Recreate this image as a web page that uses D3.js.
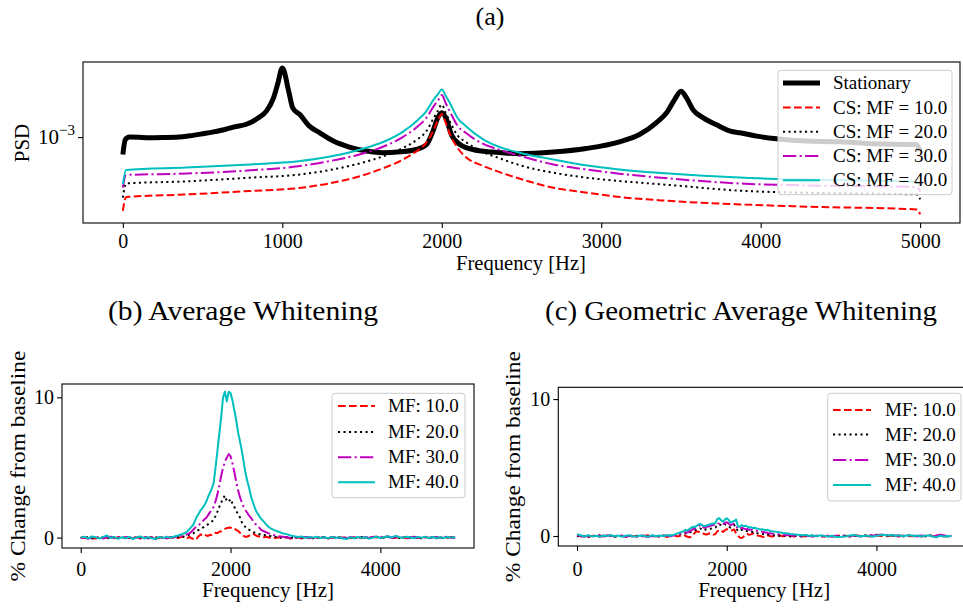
<!DOCTYPE html>
<html><head><meta charset="utf-8">
<script src="https://cdn.jsdelivr.net/npm/d3@7"></script>
<style>
body{margin:0;background:#fff}
svg{display:block}
text{font-family:"Liberation Serif","Times New Roman",serif;fill:#000}
</style>
</head><body>
<svg id="c" width="963" height="608"></svg>
<script>
// ---------------- DATA ----------------
// Panel (a): PSD vs frequency
const statFreq = [0,15,40,100,160,250,350,420,500,570,640,700,770,850,900,945,970,1000,1040,1065,1110,1170,1235,1320,1420,1530,1630,1740,1840,1905,1945,1975,2000,2030,2060,2115,2195,2320,2490,2700,2905,3115,3240,3345,3410,3460,3500,3535,3575,3640,3720,3825,3870,3975,4100,4285,4495,4705,4975,5000];
const statPSD = [7.06e-4,9.47e-4,1.0e-3,0.996e-3,0.986e-3,0.99e-3,1.0e-3,1.026e-3,1.068e-3,1.11e-3,1.164e-3,1.229e-3,1.287e-3,1.471e-3,1.683e-3,2.195e-3,2.863e-3,4.0e-3,2.51e-3,1.797e-3,1.571e-3,1.246e-3,1.09e-3,0.923e-3,0.819e-3,0.756e-3,0.731e-3,0.745e-3,0.78e-3,0.862e-3,1.127e-3,1.471e-3,1.626e-3,1.422e-3,1.053e-3,0.862e-3,0.78e-3,0.741e-3,0.716e-3,0.741e-3,0.796e-3,0.91e-3,1.053e-3,1.331e-3,1.626e-3,2.121e-3,2.51e-3,2.195e-3,1.736e-3,1.471e-3,1.287e-3,1.112e-3,1.09e-3,1.02e-3,0.967e-3,0.923e-3,0.91e-3,0.875e-3,0.862e-3,0.756e-3];

const csFreq = [0,20,400,800,1100,1300,1500,1650,1750,1850,1900,1950,1975,2000,2025,2050,2100,2150,2250,2350,2500,2700,2900,3100,3400,3900,4300,4980,5000];
const csMF10 = [2.28e-4,3.01e-4,3.17e-4,3.40e-4,3.60e-4,3.97e-4,4.63e-4,5.48e-4,6.31e-4,7.68e-4,8.82e-4,1.16e-3,1.39e-3,1.59e-3,1.33e-3,1.07e-3,8.04e-4,6.70e-4,5.68e-4,5.03e-4,4.30e-4,3.63e-4,3.30e-4,3.03e-4,2.80e-4,2.59e-4,2.48e-4,2.35e-4,2.13e-4];
const csMF20 = [2.97e-4,3.95e-4,4.12e-4,4.44e-4,4.71e-4,5.18e-4,5.98e-4,6.96e-4,7.98e-4,9.61e-4,1.11e-3,1.47e-3,1.69e-3,1.92e-3,1.62e-3,1.37e-3,1.03e-3,9.08e-4,7.51e-4,6.64e-4,5.64e-4,4.90e-4,4.45e-4,4.17e-4,3.86e-4,3.40e-4,3.28e-4,3.17e-4,2.87e-4];
const csMF30 = [3.63e-4,4.68e-4,4.82e-4,5.14e-4,5.57e-4,6.20e-4,7.16e-4,8.45e-4,9.90e-4,1.24e-3,1.45e-3,1.86e-3,2.07e-3,2.32e-3,1.97e-3,1.68e-3,1.25e-3,1.09e-3,8.87e-4,7.85e-4,6.81e-4,5.78e-4,5.25e-4,4.83e-4,4.40e-4,3.93e-4,3.80e-4,3.68e-4,3.35e-4];
const csMF40 = [3.88e-4,5.17e-4,5.43e-4,5.79e-4,6.16e-4,6.77e-4,7.88e-4,9.29e-4,1.10e-3,1.41e-3,1.66e-3,2.13e-3,2.35e-3,2.59e-3,2.28e-3,1.99e-3,1.46e-3,1.25e-3,9.76e-4,8.32e-4,7.25e-4,6.39e-4,5.69e-4,5.26e-4,4.84e-4,4.42e-4,4.27e-4,4.09e-4,3.78e-4];

const topXTicks = [0,1000,2000,3000,4000,5000];
const topYTicks = [1e-3];

// Panels (b),(c): % change from baseline
const pctFreq = [
 0,50,100,150,200,250,300,350,400,450,500,550,600,650,700,
 750,800,850,900,950,1000,1050,1100,1150,1200,1250,1300,1350,1400,
 1425,1450,1475,1500,1525,1550,1575,1600,1625,1650,1675,1700,
 1725,1750,1775,1800,1825,1850,1875,1900,1925,1950,1975,2000,
 2025,2050,2075,2100,2125,2150,2175,2200,2225,2250,2275,2300,
 2325,2350,2375,2400,2425,2450,2475,2500,2525,2550,2575,2600,
 2650,2700,2750,2800,2850,2900,2950,3000,3050,3100,3150,3200,
 3250,3300,3350,3400,3450,3500,3550,3600,3650,3700,3750,3800,
 3850,3900,3950,4000,4050,4100,4150,4200,4250,4300,4350,4400,
 4450,4500,4550,4600,4650,4700,4750,4800,4850,4900,4950,5000];

const avgMF10 = [
 0.02,-0.05,0.03,-0.02,-0.06,0.04,-0.03,0.02,0.00,-0.05,0.03,-0.02,0.05,-0.04,0.00,
 0.03,-0.06,0.02,-0.03,0.05,-0.08,-0.02,0.04,-0.05,0.02,0.00,-0.03,0.05,0.08,
 -0.03,0.05,-0.05,-0.08,0.02,-0.06,0.10,0.22,0.18,0.25,0.15,0.12,
 0.20,0.18,0.28,0.35,0.32,0.42,0.45,0.55,0.62,0.68,0.70,0.72,
 0.62,0.65,0.55,0.48,0.35,0.22,0.12,0.05,0.08,0.15,0.22,0.28,
 0.20,0.12,0.08,0.10,0.05,0.02,0.06,0.03,-0.02,0.04,0.00,-0.03,
 0.02,-0.05,0.03,-0.08,-0.04,0.02,-0.06,0.00,0.03,-0.04,0.02,-0.02,
 0.04,-0.06,0.00,-0.03,0.05,-0.02,0.03,-0.05,0.02,0.00,-0.04,0.03,
 -0.02,0.05,0.00,-0.03,0.04,0.06,0.02,-0.02,0.05,0.00,-0.04,0.02,
 0.04,-0.03,0.00,0.05,-0.02,0.03,-0.04,0.00,0.04,-0.02,0.05,0.02];
const avgMF20 = [
 0.00,-0.04,0.03,-0.06,0.02,-0.05,0.04,0.00,-0.03,0.05,-0.02,0.03,-0.05,0.02,0.04,
 -0.04,0.01,-0.02,0.05,-0.03,0.02,-0.05,0.03,0.00,0.04,-0.02,0.05,0.06,0.10,
 0.15,0.22,0.28,0.30,0.38,0.48,0.55,0.60,0.70,0.78,0.85,0.95,
 1.05,1.15,1.25,1.55,1.85,2.20,2.50,2.80,3.00,2.60,2.55,2.75,
 2.45,2.20,1.90,1.70,1.45,1.10,0.90,0.75,0.62,0.55,0.48,0.40,
 0.35,0.30,0.26,0.22,0.20,0.18,0.15,0.14,0.12,0.10,0.08,0.06,
 0.03,-0.02,0.04,0.00,-0.05,0.02,-0.03,0.05,0.00,-0.04,0.03,-0.02,
 0.04,-0.05,0.02,0.00,-0.03,0.04,-0.02,0.03,-0.05,0.00,0.04,-0.03,
 0.02,0.05,0.02,0.06,-0.02,0.08,0.00,0.04,-0.03,0.05,0.02,-0.02,
 0.04,0.00,-0.04,0.03,0.05,-0.02,0.02,0.00,-0.03,0.04,0.01,-0.02];
const avgMF30 = [
 -0.05,0.02,-0.08,0.04,-0.03,0.05,-0.06,0.03,0.06,-0.04,0.02,-0.07,0.04,0.00,-0.05,
 0.06,-0.02,0.03,-0.06,0.02,-0.12,0.03,0.00,-0.04,0.05,0.02,0.08,0.12,0.20,
 0.25,0.30,0.40,0.55,0.70,0.80,0.90,1.00,1.15,1.30,1.40,1.60,
 1.80,2.00,2.20,2.60,3.10,3.70,4.40,5.00,5.40,5.70,5.95,5.80,
 5.30,4.70,4.00,3.40,2.90,2.50,2.20,1.95,1.75,1.55,1.40,1.20,
 1.00,0.90,0.75,0.60,0.50,0.45,0.38,0.32,0.28,0.22,0.18,0.15,
 0.10,0.06,0.02,-0.03,0.04,-0.05,0.02,0.05,-0.04,0.03,-0.02,0.06,
 0.00,-0.05,0.03,0.05,-0.03,0.02,-0.06,0.04,0.00,-0.04,0.06,0.02,
 -0.03,0.05,0.08,0.03,0.10,0.04,-0.02,0.05,0.08,0.00,-0.05,0.03,
 0.06,-0.02,0.04,0.00,-0.04,0.05,0.02,-0.03,0.04,0.06,-0.02,0.00];
const avgMF40 = [
 0.00,0.06,-0.05,0.08,0.02,-0.06,0.05,0.15,-0.03,0.04,-0.08,0.03,-0.05,0.06,-0.10,
 0.02,0.08,-0.06,0.03,-0.04,-0.10,0.05,-0.02,0.06,0.00,0.08,0.15,0.25,0.35,
 0.45,0.60,0.75,0.90,1.20,1.50,1.70,1.95,2.10,2.30,2.55,2.90,
 3.20,3.50,3.90,5.00,6.20,7.40,8.60,10.00,10.40,9.70,10.40,10.30,
 9.80,9.10,8.40,7.50,6.90,6.20,5.40,4.60,4.00,3.50,2.90,2.50,
 2.10,1.80,1.60,1.40,1.25,1.10,0.95,0.80,0.70,0.62,0.55,0.50,
 0.40,0.30,0.25,0.15,0.10,0.05,0.08,-0.02,0.04,0.00,0.06,-0.03,
 0.02,-0.05,0.05,-0.02,0.03,-0.06,-0.10,0.02,-0.04,0.05,-0.03,0.03,
 -0.08,0.00,0.06,-0.04,0.04,0.08,0.02,0.12,0.05,-0.02,0.06,0.02,
 -0.04,0.05,0.00,0.07,-0.03,0.04,-0.05,0.03,-0.02,0.05,0.00,0.02];

const geoMF10 = [
 0.05,-0.03,0.02,-0.05,0.00,0.03,-0.06,0.02,-0.02,0.04,-0.04,0.00,0.02,-0.05,0.03,
 -0.02,0.00,-0.06,0.02,0.05,-0.04,0.00,-0.02,0.03,-0.08,0.00,0.04,-0.03,0.05,
 0.08,0.00,-0.05,-0.10,-0.05,0.05,0.25,0.35,0.30,0.28,0.20,0.15,
 0.10,0.15,0.20,0.18,0.10,0.15,0.35,0.45,0.40,0.30,0.42,0.50,
 0.45,0.38,0.42,0.48,0.20,0.05,-0.12,-0.15,-0.05,0.10,0.15,0.08,
 0.12,0.20,0.10,0.05,0.02,0.00,-0.05,-0.08,0.02,0.05,0.00,-0.03,
 0.02,0.05,-0.02,0.00,0.03,-0.04,0.02,0.00,-0.03,0.04,-0.02,0.02,
 0.00,-0.05,0.03,-0.02,0.00,0.04,-0.03,0.02,-0.05,0.00,0.03,-0.02,
 0.04,-0.03,0.02,0.05,0.00,0.03,-0.02,0.04,0.00,-0.04,0.02,0.05,
 -0.02,0.00,0.03,-0.03,0.02,0.04,-0.02,0.00,0.05,-0.03,0.02,0.00];
const geoMF20 = [
 0.00,-0.04,0.02,-0.06,0.03,-0.02,0.05,-0.03,0.00,0.04,-0.05,0.02,0.00,-0.03,0.03,
 -0.04,0.02,-0.02,0.05,-0.05,0.00,0.03,-0.04,0.02,0.00,0.04,0.08,0.10,0.15,
 0.18,0.20,0.15,0.25,0.30,0.38,0.42,0.45,0.50,0.55,0.45,0.42,
 0.50,0.48,0.52,0.55,0.58,0.62,0.80,0.85,0.80,0.75,0.85,0.80,
 0.70,0.62,0.75,0.80,0.60,0.35,0.40,0.45,0.38,0.40,0.35,0.30,
 0.32,0.28,0.25,0.22,0.20,0.18,0.15,0.12,0.10,0.12,0.08,0.06,
 0.05,0.02,0.04,0.00,-0.03,0.02,0.00,-0.04,0.03,-0.02,0.04,0.00,
 -0.05,0.02,0.00,-0.03,0.04,-0.02,0.02,0.05,-0.03,0.00,0.04,-0.02,
 0.03,0.06,0.04,0.10,0.05,0.08,0.02,0.05,0.00,0.03,-0.04,0.02,
 0.04,-0.02,0.03,0.00,-0.03,0.04,0.02,-0.02,0.05,0.00,-0.04,0.02];
const geoMF30 = [
 0.05,0.00,-0.05,0.03,-0.06,0.02,0.04,-0.03,0.05,-0.02,0.00,-0.04,0.03,-0.05,0.02,
 0.00,-0.06,0.04,-0.02,-0.08,0.02,0.00,-0.03,0.04,0.02,0.00,0.06,0.12,0.18,
 0.20,0.28,0.25,0.35,0.40,0.50,0.55,0.62,0.70,0.85,0.70,0.60,
 0.65,0.70,0.72,0.78,0.80,0.85,0.95,0.90,0.85,0.88,0.95,1.00,
 0.92,0.80,0.85,0.90,0.75,0.50,0.55,0.60,0.55,0.50,0.52,0.45,
 0.48,0.42,0.40,0.38,0.35,0.30,0.32,0.28,0.25,0.22,0.20,0.18,
 0.15,0.12,0.10,0.06,0.08,0.02,0.05,-0.02,0.03,0.00,-0.04,0.02,
 -0.03,0.04,0.00,-0.05,0.02,-0.03,0.00,0.04,-0.02,0.05,0.00,-0.04,
 0.03,0.06,0.02,0.08,0.10,0.12,0.05,0.08,0.02,0.04,0.00,-0.03,
 0.05,0.02,-0.04,0.03,0.00,0.06,-0.02,0.03,0.10,0.05,-0.02,0.02];
const geoMF40 = [
 0.12,0.05,-0.04,0.06,-0.03,0.02,-0.06,0.04,0.00,0.05,-0.02,0.03,-0.05,0.02,0.06,
 -0.04,-0.02,0.04,0.00,-0.06,0.05,-0.02,0.03,0.00,0.06,0.04,0.10,0.20,0.30,
 0.35,0.45,0.40,0.50,0.60,0.68,0.65,0.75,0.85,0.88,0.78,0.72,
 0.75,0.80,0.85,0.90,0.92,0.95,1.25,1.30,1.15,1.05,1.20,1.30,
 1.18,0.98,1.05,1.10,1.20,0.70,0.68,0.80,0.72,0.75,0.68,0.62,
 0.65,0.58,0.60,0.55,0.52,0.48,0.50,0.45,0.42,0.45,0.38,0.35,
 0.32,0.28,0.22,0.20,0.15,0.12,0.10,0.05,0.08,0.02,0.04,-0.02,
 0.05,0.00,-0.04,0.02,-0.05,-0.08,-0.06,-0.02,0.03,0.08,0.02,-0.03,
 0.04,0.00,-0.05,0.02,0.06,0.10,0.04,0.08,0.02,0.05,-0.02,0.04,
 0.06,0.00,0.03,-0.03,0.02,0.05,-0.04,-0.10,0.02,-0.03,0.00,-0.02];

const pctXTicks = [0,2000,4000];
const pctYTicks = [0,10];

const topLegend = ["Stationary","CS: MF = 10.0","CS: MF = 20.0","CS: MF = 30.0","CS: MF = 40.0"];
const pctLegend = ["MF: 10.0","MF: 20.0","MF: 30.0","MF: 40.0"];

// ---------------- STYLES ----------------
const STY = {
  stat:{color:'#000000', w:5, dash:null},
  r:{color:'#ff0000', w:2, dash:'7.7,3.3'},
  k:{color:'#000000', w:2, dash:'2.1,3.4'},
  m:{color:'#bf00bf', w:2, dash:'13.3,3.3,2.1,3.3'},
  c:{color:'#00bfbf', w:2, dash:null}
};
const FF = '"Liberation Serif","Times New Roman",serif';
const svg = d3.select('#c');

function styleLine(sel, s){
  sel.attr('fill','none').attr('stroke',s.color).attr('stroke-width',s.w)
     .attr('stroke-linejoin','round');
  if (s.dash) sel.attr('stroke-dasharray',s.dash);
  return sel;
}
function zip(xs, ys){ const n=Math.min(xs.length, ys.length); const o=[]; for(let i=0;i<n;i++) o.push([xs[i],ys[i]]); return o; }

function clip(id, x0,y0,x1,y1){
  svg.append('clipPath').attr('id',id).append('rect')
    .attr('x',x0).attr('y',y0).attr('width',x1-x0).attr('height',y1-y0);
}
function frame(x0,y0,x1,y1){
  svg.append('rect').attr('x',x0).attr('y',y0).attr('width',x1-x0).attr('height',y1-y0)
    .attr('fill','none').attr('stroke','#000').attr('stroke-width',1.1);
}
function styleAxis(g, fs){
  g.select('.domain').remove();
  g.attr('font-family',FF).attr('font-size',fs);
  g.selectAll('line').attr('stroke','#000').attr('stroke-width',1.1);
  g.selectAll('text').attr('fill','#000');
}
function legend(x0,y0,x1,y1, rows, rowY, hx1, hx2, tx, fs){
  svg.append('rect').attr('x',x0).attr('y',y0).attr('width',x1-x0).attr('height',y1-y0)
    .attr('rx',3).attr('fill','#fff').attr('fill-opacity',0.8)
    .attr('stroke','#cccccc').attr('stroke-width',1);
  rows.forEach((r,i)=>{
    const y = rowY[i];
    styleLine(svg.append('line').attr('x1',hx1).attr('x2',hx2).attr('y1',y).attr('y2',y), r.s);
    svg.append('text').attr('x',tx).attr('y',y+6).attr('font-size',fs).text(r.label);
  });
}

// ---------------- PANEL (a) ----------------
const xT = d3.scaleLinear().domain([-250,5250]).range([83,960]);
const yT = d3.scaleLog().domain([1.79e-4,4.5e-3]).range([223,62]);
clip('clipT',83,62,960,223);
const lineT = d3.line().x(d=>xT(d[0])).y(d=>yT(d[1])).curve(d3.curveMonotoneX);
const gT = svg.append('g').attr('clip-path','url(#clipT)');
styleLine(gT.append('path').attr('d',lineT(zip(statFreq,statPSD))), STY.stat);
[[csMF10,STY.r],[csMF20,STY.k],[csMF30,STY.m],[csMF40,STY.c]].forEach(([v,s])=>{
  styleLine(gT.append('path').attr('d',lineT(zip(csFreq,v))), s);
});
frame(83,62,960,223);
const axT = svg.append('g').attr('transform','translate(0,223)')
  .call(d3.axisBottom(xT).tickValues(topXTicks).tickSize(5).tickPadding(6).tickFormat(d3.format('d')));
styleAxis(axT,20);
const ayT = svg.append('g').attr('transform','translate(83,0)')
  .call(d3.axisLeft(yT).tickValues(topYTicks).tickSize(5).tickFormat(()=>''));
styleAxis(ayT,20);
topYTicks.forEach(t=>{
  const tt = svg.append('text').attr('x',75).attr('y',yT(t)+7).attr('text-anchor','end').attr('font-size',21);
  tt.append('tspan').text('10');
  tt.append('tspan').attr('dy',-9).attr('font-size',15).text('\u2212' + '3');
});
svg.append('text').attr('transform','translate(29,143) rotate(-90)').attr('text-anchor','middle')
  .attr('font-size',21).text('PSD');
svg.append('text').attr('x',521).attr('y',270).attr('text-anchor','middle').attr('font-size',20)
  .attr('textLength',130).attr('lengthAdjust','spacingAndGlyphs').text('Frequency [Hz]');
svg.append('text').attr('x',490).attr('y',25).attr('text-anchor','middle').attr('font-size',26).text('(a)');
legend(778,70.3,952,194.7,
  [{label:topLegend[0],s:STY.stat},{label:topLegend[1],s:STY.r},{label:topLegend[2],s:STY.k},{label:topLegend[3],s:STY.m},{label:topLegend[4],s:STY.c}],
  [83,107.5,131.8,156,180.3], 783, 820, 833, 19);

// ---------------- PANELS (b),(c) ----------------
function pctPanel(cfg){
  const x = d3.scaleLinear().domain([-250,5250]).range([cfg.x0, cfg.x1]);
  const y = d3.scaleLinear().domain(cfg.ydom).range([cfg.y1, cfg.y0]);
  clip(cfg.id, cfg.x0, cfg.y0, cfg.x1, cfg.y1);
  const g = svg.append('g').attr('clip-path',`url(#${cfg.id})`);
  const line = d3.line().x(d=>x(d[0])).y(d=>y(d[1]));
  [[cfg.s[0],STY.r],[cfg.s[1],STY.k],[cfg.s[2],STY.m],[cfg.s[3],STY.c]].forEach(([v,s])=>{
    styleLine(g.append('path').attr('d',line(zip(pctFreq,v))), s);
  });
  frame(cfg.x0,cfg.y0,cfg.x1,cfg.y1);
  const ax = svg.append('g').attr('transform',`translate(0,${cfg.y1})`)
    .call(d3.axisBottom(x).tickValues(pctXTicks).tickSize(5).tickPadding(cfg.xpad).tickFormat(d3.format('d')));
  styleAxis(ax,20);
  const ay = svg.append('g').attr('transform',`translate(${cfg.x0},0)`)
    .call(d3.axisLeft(y).tickValues(pctYTicks).tickSize(5).tickPadding(3).tickFormat(d3.format('d')));
  styleAxis(ay,20);
  svg.append('text').attr('x',(cfg.x0+cfg.x1)/2).attr('y',597).attr('text-anchor','middle').attr('font-size',20)
    .attr('textLength',132).attr('lengthAdjust','spacingAndGlyphs').text('Frequency [Hz]');
  svg.append('text').attr('transform',`translate(${cfg.ylx},${(cfg.y0+cfg.y1)/2}) rotate(-90)`)
    .attr('text-anchor','middle').attr('font-size',21)
    .attr('textLength',231).attr('lengthAdjust','spacingAndGlyphs').text('% Change from baseline');
  svg.append('text').attr('x',cfg.tx).attr('y',320).attr('text-anchor','middle').attr('font-size',27)
    .attr('textLength',cfg.tlen).attr('lengthAdjust','spacingAndGlyphs').text(cfg.title);
  legend(cfg.lg[0],cfg.lg[1],cfg.lg[2],cfg.lg[3],
    pctLegend.map((l,i)=>({label:l,s:[STY.r,STY.k,STY.m,STY.c][i]})),
    cfg.rows, cfg.hx[0], cfg.hx[1], cfg.hx[2], 19);
}

pctPanel({id:'clipB', x0:62, x1:474, y0:384, y1:548, ydom:[-0.74,10.95],
  s:[avgMF10,avgMF20,avgMF30,avgMF40], xpad:9, ylx:25,
  tx:243, tlen:270, title:'(b) Average Whitening',
  lg:[332,393.3,465,497.7], rows:[406,432,457.3,482.3], hx:[338,375,388]});
pctPanel({id:'clipC', x0:558.3, x1:970, y0:387.3, y1:546, ydom:[-0.73,10.86],
  s:[geoMF10,geoMF20,geoMF30,geoMF40], xpad:11, ylx:520,
  tx:741, tlen:392, title:'(c) Geometric Average Whitening',
  lg:[827.7,393.3,961,501], rows:[410,434.5,460,485], hx:[833,871,885]});
</script>
</body></html>
